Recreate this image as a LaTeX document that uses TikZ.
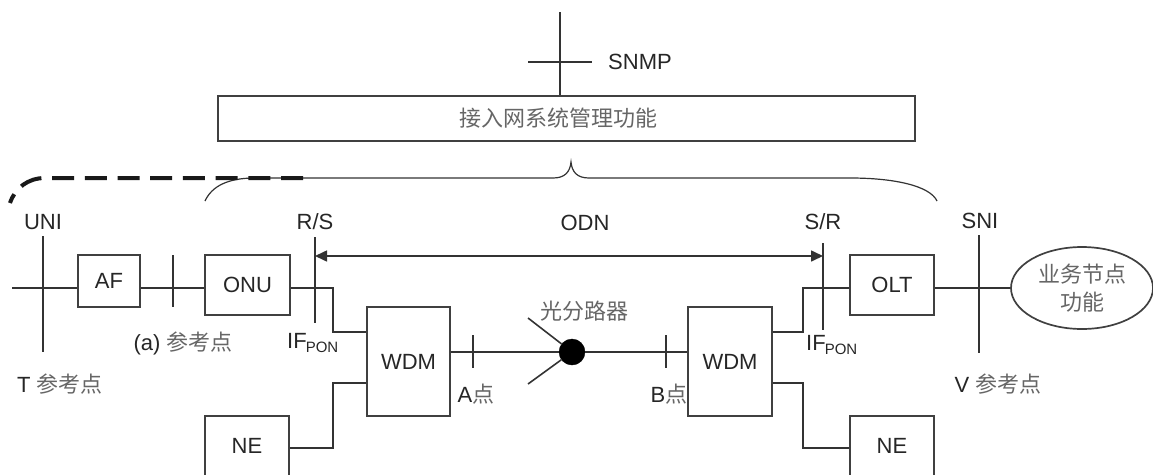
\documentclass[tikz,border=0pt]{standalone}
\usepackage{fontspec}
\setmainfont{Liberation Sans}
\newfontfamily\cjk{Noto Sans CJK SC}
\usetikzlibrary{shapes.geometric,arrows.meta}
\newcommand{\zhs}[1]{{\cjk\fontsize{22}{22}\selectfont\color{black!60}#1}}
\begin{document}
\begin{tikzpicture}[x=1pt,y=-1pt,
  ln/.style={line width=1.6pt, draw=black!80},
  thin/.style={line width=1.2pt, draw=black!80},
  box/.style={draw=black!75, line width=1.7pt, inner sep=0pt, font=\fontsize{22}{22}\selectfont, text=black!85},
  lbl/.style={font=\fontsize{22}{22}\selectfont, text=black!85, inner sep=0pt},
  zh/.style={font=\cjk\fontsize{22}{22}\selectfont, text=black!60, inner sep=0pt},
]
\path[use as bounding box, clip] (0,0) rectangle (1153,474);

% ---- management ----
\node[box, minimum width=697pt, minimum height=45pt] (mgmt) at (566.5,118.5) {};
\node[zh] (mgmtT) at (558,118) {接入网系统管理功能};
\coordinate (snmpTop) at (560,12);
\draw[ln] (snmpTop) -- (snmpTop |- mgmt.north);
\draw[ln] (528,62) -- (592,62);
\node[lbl, anchor=west] (snmp) at (608,62) {SNMP};

% ---- brace and dashed ----
\draw[thin] (205,201) .. controls (212,186) and (228,178) .. (255,178) -- (553,178)
  .. controls (565,178) and (570,172) .. (571,162)
  .. controls (572,172) and (577,178) .. (589,178) -- (850,178)
  .. controls (895,178) and (930,186) .. (937,201);
\draw[line width=4pt, black!90, dash pattern=on 22pt off 10.7pt]
  (303,178) -- (45,178) .. controls (28,178) and (15,188) .. (10,203);

% ---- boxes ----
\node[box, minimum width=62pt, minimum height=52pt] (AF) at (109,281) {AF};
\node[box, minimum width=85pt, minimum height=60pt] (ONU) at (247.5,285) {ONU};
\node[box, minimum width=83pt, minimum height=109pt] (WDMl) at (408.5,361.5) {WDM};
\node[box, minimum width=84pt, minimum height=60pt] (NEl) at (247,446) {NE};
\node[box, minimum width=84pt, minimum height=109pt] (WDMr) at (730,361.5) {WDM};
\node[box, minimum width=84pt, minimum height=60pt] (OLT) at (892,285) {OLT};
\node[box, minimum width=84pt, minimum height=60pt] (NEr) at (892,446) {NE};
\node[ellipse, draw=black!75, line width=1.7pt, minimum width=142pt, minimum height=82pt, inner sep=0pt,
      align=center, font=\cjk\fontsize{22}{28}\selectfont, text=black!60] (SN) at (1082,288) {业务节点\\功能};
\node[circle, fill=black, draw=black, minimum size=26pt, inner sep=0pt] (split) at (572,352) {};

% ---- reference levels ----
\coordinate (hA) at (0,288);
\coordinate (arY) at (0,256);
\coordinate (uniL) at (12,288);

% ---- UNI ----
\node[lbl] (uni) at (43,222) {UNI};
\draw[ln] (43,236) -- (43,352);
\draw[ln] (uniL) -- (AF.west |- hA);
\node[lbl] (tref) at (60,384) {T \zhs{参考点}};

% ---- AF - ONU ----
\draw[ln] (AF.east |- hA) -- (ONU.west |- hA);
\draw[ln] (173,255) -- (173,307);
\node[lbl] (aref) at (183,343) {(a) \zhs{参考点}};

% ---- R/S ----
\node[lbl] (rs) at (315,222) {R/S};
\coordinate (rsT) at (315,237);
\coordinate (rsB) at (315,323);
\draw[ln] (rsT) -- (rsB);
\node[lbl, anchor=base west] (ifl) at (287,348) {IF\kern-1pt\raisebox{-4pt}{\fontsize{15}{15}\selectfont PON}};

% ---- S/R ----
\node[lbl] (sr) at (823,222) {S/R};
\coordinate (srT) at (823,243);
\coordinate (srB) at (823,330);
\draw[ln] (srT) -- (srB);
\node[lbl, anchor=base west] (ifr) at (806,350) {IF\kern-1pt\raisebox{-4pt}{\fontsize{15}{15}\selectfont PON}};

% ---- ODN arrow ----
\node[lbl] (odn) at (585,223) {ODN};
\draw[ln, {Triangle[length=12pt,width=11pt]}-{Triangle[length=12pt,width=11pt]}]
  (rsT |- arY) -- (srT |- arY);

% ---- ONU / NE to left WDM ----
\draw[ln] (ONU.east |- hA) -- (333,288) -- (333,332) -- (WDMl.west |- {0,332});
\draw[ln] (NEl.east |- {0,448}) -- (333,448) -- (333,383) -- (WDMl.west |- {0,383});

% ---- splitter ----
\draw[ln] (WDMl.east |- split) -- (split);
\draw[ln] (split) -- (WDMr.west |- split);
\draw[ln] (473,335) -- (473,368);
\draw[ln] (666,335) -- (666,368);
\draw[ln] (528,318) -- (split);
\draw[ln] (528,384) -- (split);
\node[zh] (spl) at (584,311) {光分路器};
\node[lbl] (pa) at (476,394) {A\zhs{点}};
\node[lbl] (pb) at (669,394) {B\zhs{点}};

% ---- right WDM to OLT / NE ----
\draw[ln] (WDMr.east |- {0,332}) -- (803,332) -- (803,288) -- (OLT.west |- hA);
\draw[ln] (WDMr.east |- {0,383}) -- (803,383) -- (803,448) -- (NEr.west |- {0,448});

% ---- SNI ----
\node[lbl] (sni) at (980,221) {SNI};
\draw[ln] (979,235) -- (979,353);
\draw[ln] (OLT.east |- hA) -- (SN.west);
\node[lbl] (vref) at (998,384) {V \zhs{参考点}};
\end{tikzpicture}
\end{document}
